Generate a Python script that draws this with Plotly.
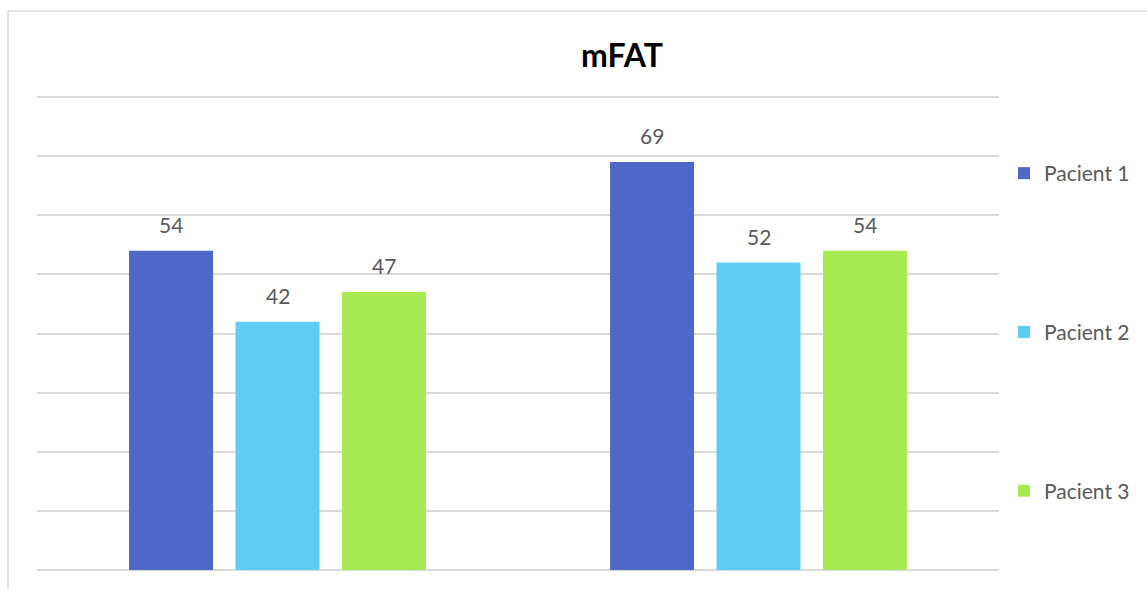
import plotly.graph_objects as go

# mFAT scores per patient at two evaluations
categories = ["Evaluare 1", "Evaluare 2"]
series_names = ["Pacient 1", "Pacient 2", "Pacient 3"]
pacient_1 = [54, 69]
pacient_2 = [42, 52]
pacient_3 = [47, 54]
series_values = [pacient_1, pacient_2, pacient_3]
colors = ["#4e67c8", "#5eccf3", "#a7ea52"]

y_max = 80
y_step = 10
bargap = 0.336
bargroupgap = 0.211

W, H = 1147, 589
ml, mr, mt, mb = 37, 148, 95, 19
grid_color = "#d9d9d9"
text_color = "#595959"
font_family = "Lato, 'Open Sans', sans-serif"

plot_w = W - ml - mr
plot_h = H - mt - mb
# leave a couple of pixels above the top gridline so it is not clipped
px_per_unit = (plot_h - 2) / y_max
y_top = plot_h / px_per_unit

fig = go.Figure()
for i, (name, vals, col) in enumerate(zip(series_names, series_values, colors)):
    fig.add_trace(go.Bar(
        x=categories, y=vals, name=name,
        marker=dict(color=col, line=dict(width=0)),
        legendgroup=name,
        hoverinfo="x+y+name",
    ))

# value labels above each bar, placed at the grouped bar centres
n = len(series_values)
slot = (1 - bargap) / n
annotations = []
for i, vals in enumerate(series_values):
    for j, v in enumerate(vals):
        annotations.append(dict(
            x=j + (i - (n - 1) / 2) * slot, y=v, xref="x", yref="y",
            text=str(v), showarrow=False, yanchor="bottom", yshift=12,
            font=dict(size=21, color=text_color, family=font_family),
        ))

frame_x = (8 - ml) / plot_w
frame_top = 1 + (mt - 11) / plot_h
frame_right = (W - ml) / plot_w
frame_bottom = -(mb + 5) / plot_h

fig.update_layout(
    width=W, height=H,
    margin=dict(l=ml, r=mr, t=mt, b=mb, pad=0),
    paper_bgcolor="white", plot_bgcolor="white",
    barmode="group", bargap=bargap, bargroupgap=bargroupgap,
    title=dict(text="<b>mFAT</b>", x=622 / W, xanchor="center",
               y=1 - 56 / H, yanchor="middle", xref="container",
               yref="container",
               font=dict(size=32, color="#000000", family=font_family)),
    xaxis=dict(showticklabels=False, showgrid=False, zeroline=False,
               showline=False, ticks=""),
    yaxis=dict(range=[0, y_top], dtick=y_step, tick0=0, showticklabels=False,
               showgrid=True, gridcolor=grid_color, gridwidth=1.5,
               zeroline=True, zerolinecolor=grid_color, zerolinewidth=1.5,
               showline=False, ticks=""),
    legend=dict(x=1.0 + (1004 - 999) / plot_w, xanchor="left",
                y=1 - (169 - mt - 16) / plot_h, yanchor="top",
                tracegroupgap=128.5, itemclick=False,
                font=dict(size=21, color=text_color, family=font_family),
                bgcolor="rgba(0,0,0,0)"),
    annotations=annotations,
    shapes=[
        dict(type="line", xref="paper", yref="paper",
             x0=frame_x, x1=frame_x, y0=frame_bottom, y1=frame_top,
             line=dict(color=grid_color, width=1.5)),
        dict(type="line", xref="paper", yref="paper",
             x0=frame_x, x1=frame_right, y0=frame_top, y1=frame_top,
             line=dict(color=grid_color, width=1.5)),
    ],
    showlegend=True,
)

fig.write_html("out.html")
